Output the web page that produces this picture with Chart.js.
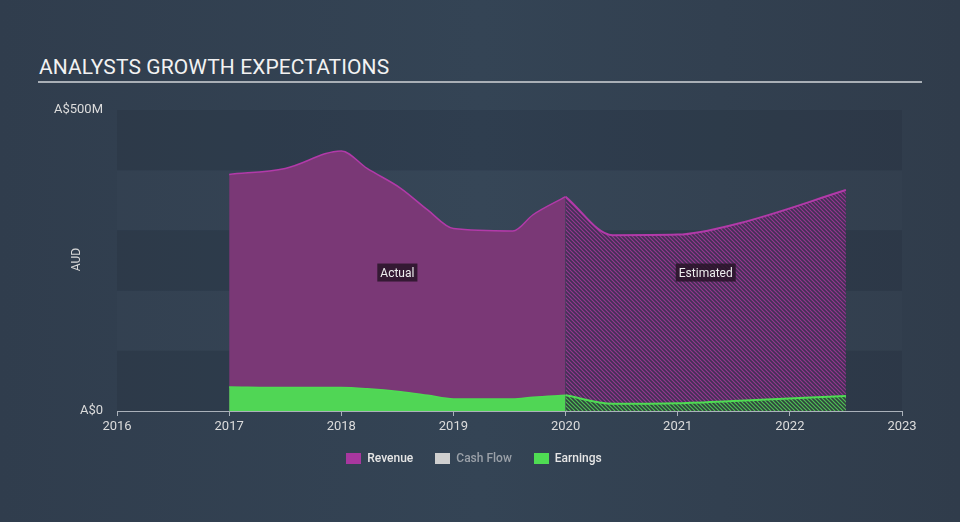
<!DOCTYPE html>
<html>
<head>
<meta charset="utf-8">
<script src="https://cdn.jsdelivr.net/npm/chart.js@4"></script>
<style>
  html, body { margin: 0; padding: 0; }
  body {
    width: 960px; height: 522px; overflow: hidden; position: relative;
    background: linear-gradient(90deg, #303d4d 0%, #344455 50%, #303c4b 100%);
    font-family: Roboto, "Noto Sans", sans-serif;
  }
  #title {
    position: absolute; left: 39px; top: 55px;
    color: #f2f2f2; font-size: 21px; letter-spacing: 0.1px;
  }
  #rule {
    position: absolute; left: 38px; top: 81px; width: 884px; height: 2px;
    background: #a9afb6;
  }
  #chartBox { position: absolute; left: 0; top: 0; width: 960px; height: 522px; }
  #legend {
    position: absolute; left: -6px; top: 451px; width: 960px;
    display: flex; justify-content: center; gap: 22px;
    font-size: 12px; font-weight: 500;
  }
  .item { display: flex; align-items: center; color: #e6e6e6; }
  .item span.box { width: 15px; height: 11px; margin-right: 6px; display: inline-block; }
  .item.off { color: #9aa0a8; }
</style>
</head>
<body>
<div id="title">ANALYSTS GROWTH EXPECTATIONS</div>
<div id="rule"></div>
<div id="chartBox"><canvas id="chart" width="960" height="522"></canvas></div>
<div id="legend">
  <div class="item"><span class="box" style="background:#a8379f"></span>Revenue</div>
  <div class="item off"><span class="box" style="background:#cfcfcf"></span>Cash Flow</div>
  <div class="item"><span class="box" style="background:#4fdc53"></span>Earnings</div>
</div>

<script>
// data (A$ millions, x in years)
const actualDates = [2017.0, 2017.5, 2018.0, 2018.23, 2018.53, 2018.77, 2019.0, 2019.53, 2019.71, 2020.0];
const actualRevenue = [393, 403, 432, 403, 370, 334, 303, 299, 326, 356];
const actualEarnings = [40, 39, 39, 37, 32, 26, 20, 20, 23, 26];

const estimateDates = [2020.0, 2020.42, 2021.0, 2021.55, 2022.5];
const estimateRevenue = [356, 292, 293, 312, 367];
const estimateEarnings = [26, 12, 13, 17, 25];

const yearTicks = [2016, 2017, 2018, 2019, 2020, 2021, 2022, 2023];

const toPoints = (xs, ys) => xs.map((x, i) => ({ x: x, y: ys[i] }));

// hatch pattern for the estimated part
function makeHatch(bg, line) {
  const c = document.createElement("canvas");
  c.width = 4; c.height = 4;
  const g = c.getContext("2d");
  g.fillStyle = bg;
  g.fillRect(0, 0, 4, 4);
  g.strokeStyle = line;
  g.lineWidth = 1.2;
  g.beginPath();
  g.moveTo(-1, -1); g.lineTo(5, 5);
  g.moveTo(-1, 3); g.lineTo(1, 5);
  g.moveTo(3, -1); g.lineTo(5, 1);
  g.stroke();
  return g.createPattern(c, "repeat");
}

const ctx = document.getElementById("chart").getContext("2d");
const revHatch = makeHatch("rgba(68,48,86,0.9)", "rgba(160,55,150,0.9)");
const earnHatch = makeHatch("rgba(45,70,60,0.9)", "rgba(80,210,85,0.9)");

// background bands + labels
const bandsPlugin = {
  id: "bands",
  beforeDatasetsDraw(chart) {
    const { ctx, chartArea: a, scales: { y } } = chart;
    ctx.save();
    for (let v = 0; v < 500; v += 100) {
      const top = y.getPixelForValue(v + 100);
      const bot = y.getPixelForValue(v);
      ctx.fillStyle = (v / 100) % 2 === 0 ? "rgba(20,30,42,0.14)" : "rgba(255,255,255,0.01)";
      ctx.fillRect(a.left, top, a.right - a.left, bot - top);
    }
    ctx.restore();
  },
  afterDatasetsDraw(chart) {
    const { ctx, chartArea: a, scales: { x, y } } = chart;
    ctx.save();
    ctx.font = "12px Roboto, sans-serif";
    ctx.textAlign = "center";
    ctx.textBaseline = "middle";
    const midY = y.getPixelForValue(230);
    [["Actual", 2018.5], ["Estimated", 2021.25]].forEach(([txt, xv]) => {
      const px = x.getPixelForValue(xv);
      const w = ctx.measureText(txt).width + 6;
      ctx.fillStyle = "rgba(40,20,40,0.85)";
      ctx.fillRect(px - w / 2, midY - 9, w, 18);
      ctx.fillStyle = "#eeeeee";
      ctx.fillText(txt, px, midY + 1);
    });
    // y axis title
    ctx.translate(77, (a.top + a.bottom) / 2 - 1);
    ctx.rotate(-Math.PI / 2);
    ctx.fillStyle = "#d8d8d8";
    ctx.fillText("AUD", 0, 0);
    ctx.restore();
  }
};

const common = {
  fill: "origin",
  pointRadius: 0,
  cubicInterpolationMode: "monotone",
};

new Chart(ctx, {
  type: "line",
  data: {
    datasets: [
      { ...common, label: "Earnings", data: toPoints(actualDates, actualEarnings),
        borderColor: "#4fdc53", backgroundColor: "#50d655", borderWidth: 1.5 },
      { ...common, label: "Earnings est", data: toPoints(estimateDates, estimateEarnings),
        borderColor: "#4fdc53", backgroundColor: earnHatch, borderWidth: 2 },
      { ...common, label: "Revenue", data: toPoints(actualDates, actualRevenue),
        borderColor: "#b23aa9", backgroundColor: "#7a3876", borderWidth: 1.5 },
      { ...common, label: "Revenue est", data: toPoints(estimateDates, estimateRevenue),
        borderColor: "#b23aa9", backgroundColor: revHatch, borderWidth: 2 },
    ],
  },
  options: {
    responsive: false,
    animation: false,
    layout: { padding: { top: 110, right: 58, bottom: 81, left: 0 } },
    plugins: { legend: { display: false }, tooltip: { enabled: false } },
    scales: {
      x: {
        type: "linear",
        min: 2016, max: 2023,
        afterBuildTicks: (s) => { s.ticks = yearTicks.map((v) => ({ value: v })); },
        afterFit: (s) => { s.height = 30; },
        grid: { display: true, drawOnChartArea: false, drawTicks: true, tickLength: 5, color: "#aab1ba" },
        border: { display: true, color: "#aab1ba", width: 1 },
        ticks: { color: "#dcdcdc", font: { size: 13, family: "Roboto" }, padding: 3, callback: (v) => String(v) },
      },
      y: {
        min: 0, max: 500,
        afterBuildTicks: (s) => { s.ticks = [{ value: 0 }, { value: 500 }]; },
        afterFit: (s) => { s.width = 117; },
        grid: { display: false },
        border: { display: false },
        ticks: {
          color: "#dcdcdc", font: { size: 13, family: "Roboto" }, padding: 6,
          callback: (v) => (v === 0 ? "A$0" : "A$" + v + "M"),
        },
      },
    },
  },
  plugins: [bandsPlugin],
});
</script>
</body>
</html>
